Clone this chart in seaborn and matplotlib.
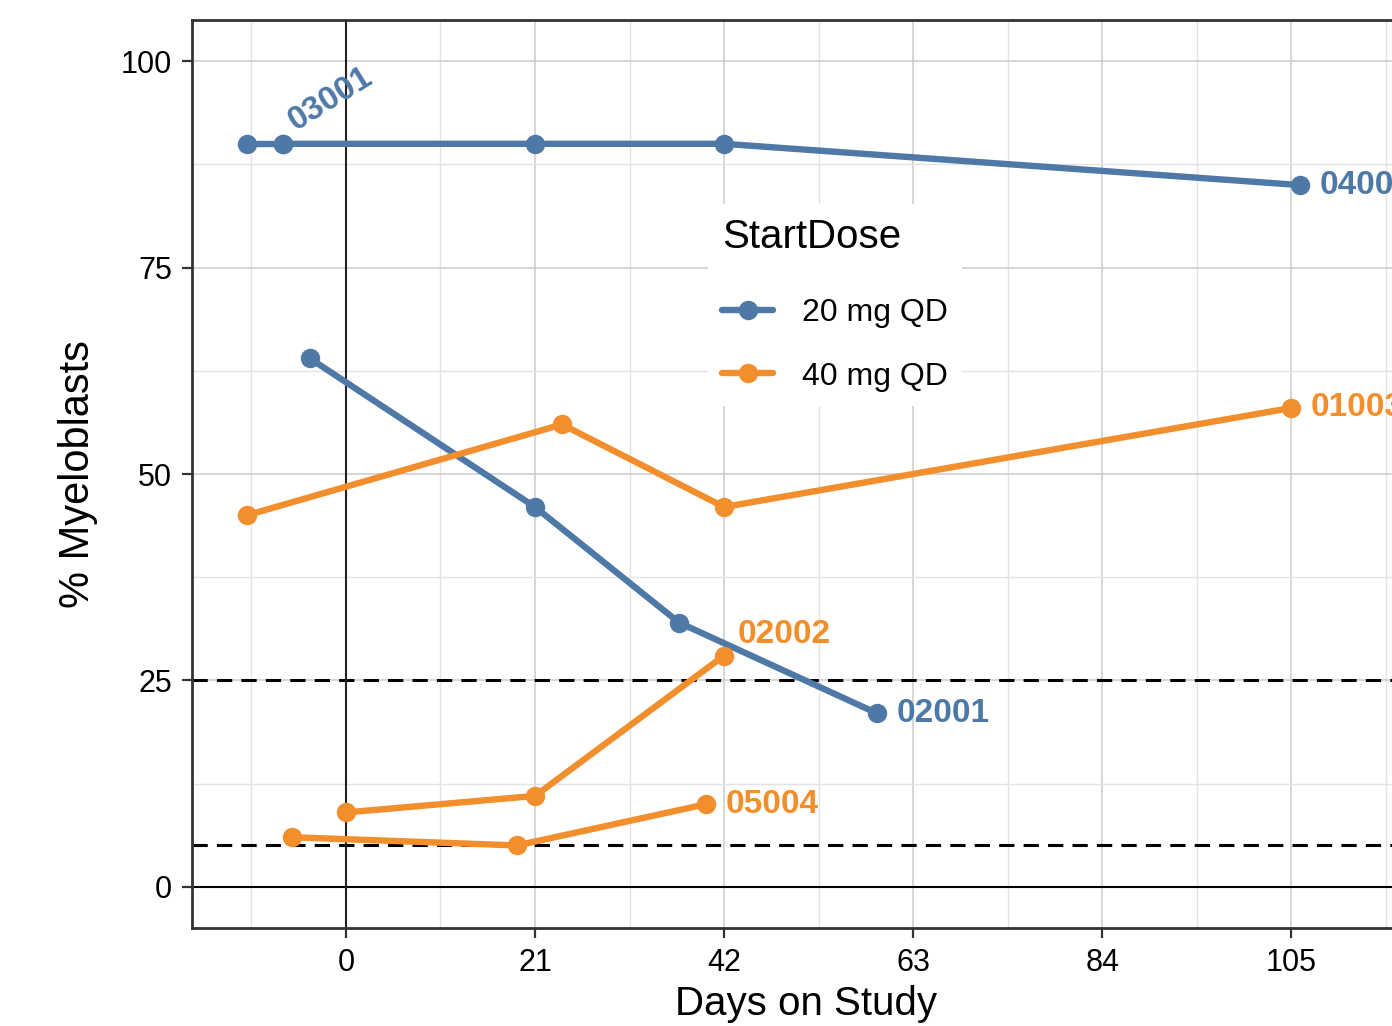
import numpy as np
import pandas as pd
import matplotlib
matplotlib.use('Agg')
import matplotlib.pyplot as plt
from matplotlib.ticker import MultipleLocator
import seaborn as sns

# Patient time courses: day on study and % myeloblasts
patients = ['03001', '04001', '02001', '01003', '02002', '05004']
start_dose = ['20 mg QD', '20 mg QD', '20 mg QD', '40 mg QD', '40 mg QD', '40 mg QD']
days = [
    [-11, -7],
    [-7, 21, 42, 106],
    [-4, 21, 37, 59],
    [-11, 24, 42, 105],
    [0, 21, 42],
    [-6, 19, 40],
]
blasts = [
    [90, 90],
    [90, 90, 90, 85],
    [64, 46, 32, 21],
    [45, 56, 46, 58],
    [9, 11, 28],
    [6, 5, 10],
]
dose_levels = ['20 mg QD', '40 mg QD']
x_ticks = [0, 21, 42, 63, 84, 105]
y_ticks = [0, 25, 50, 75, 100]
threshold_lines = [25, 5]

palette = {'20 mg QD': '#4E79A7', '40 mg QD': '#F28E2B'}
# label placement (offset in points, rotation, vertical anchor)
label_style = {
    '03001': (9, 9, 32, 'baseline'),
    '04001': (14, 0, 0, 'center'),
    '02001': (14, 0, 0, 'center'),
    '01003': (14, 0, 0, 'center'),
    '02002': (10, 15, 0, 'center'),
    '05004': (14, 0, 0, 'center'),
}

# Build the long table seaborn wants
rows = []
for pid, dose, d, b in zip(patients, start_dose, days, blasts):
    for x, y in zip(d, b):
        rows.append((pid, dose, x, y))
df = pd.DataFrame(rows, columns=['Patient', 'StartDose', 'Day', 'Blasts'])

sns.set_theme(style='white')
plt.rcParams['font.family'] = ['Liberation Sans', 'DejaVu Sans']
plt.rcParams['text.color'] = 'black'
plt.rcParams['axes.labelcolor'] = 'black'

fig = plt.figure(figsize=(13.92, 10.26), dpi=100)
ax = fig.add_axes([192 / 1392, 98 / 1026, 1228 / 1392, 908 / 1026])

# reference lines
for y in threshold_lines:
    ax.axhline(y, color='black', lw=2.2, ls=(0, (5, 3)), zorder=1.5)
ax.axhline(0, color='black', lw=1.5, zorder=1.5)
ax.axvline(0, color='#222222', lw=1.5, zorder=1.5)

sns.lineplot(data=df, x='Day', y='Blasts', hue='StartDose', hue_order=dose_levels,
             units='Patient', estimator=None, sort=False, palette=palette,
             marker='o', markersize=14, markeredgewidth=0, linewidth=4.6, ax=ax)

# patient labels at last visit
for pid, dose, d, b in zip(patients, start_dose, days, blasts):
    dx, dy, rot, va = label_style[pid]
    ax.annotate(pid, xy=(d[-1], b[-1]), xytext=(dx, dy), textcoords='offset points',
                color=palette[dose], fontweight='bold', fontsize=24,
                ha='left', va=va, rotation=rot, rotation_mode='anchor')

ax.set_xlim(-17.1, 119.3)
ax.set_ylim(-5, 105)
ax.set_xticks(x_ticks)
ax.set_yticks(y_ticks)
ax.xaxis.set_minor_locator(MultipleLocator(10.5))
ax.yaxis.set_minor_locator(MultipleLocator(12.5))
ax.grid(which='major', color='#cbcbcb', lw=1.1)
ax.grid(which='minor', color='#e3e3e3', lw=1.0)
ax.set_axisbelow(True)
ax.tick_params(which='major', direction='out', length=7.5, width=1.6, color='#333333',
               labelsize=22, labelcolor='black', pad=7, bottom=True, left=True)
ax.tick_params(which='minor', length=0)
for s in ax.spines.values():
    s.set_color('#333333')
    s.set_linewidth(2)

ax.set_xlabel('Days on Study', fontsize=29, labelpad=5)
ax.set_ylabel('% Myeloblasts', fontsize=30, labelpad=16)

handles, labels = ax.get_legend_handles_labels()
leg = ax.legend(handles, labels, title='StartDose', loc='upper left',
                bbox_to_anchor=(708 / 1392, 1 - 204 / 1026), bbox_transform=fig.transFigure,
                borderaxespad=0, fontsize=23, title_fontsize=29, alignment='left',
                handlelength=1.6, handletextpad=0.9, labelspacing=1.05, borderpad=0.45,
                fancybox=False, edgecolor='none', facecolor='white', framealpha=1)
leg._legend_box.sep = 30  # extra room under the title
for h in leg.legend_handles:
    h.set_markersize(14)
    h.set_linewidth(4.6)

fig.savefig('out.png', dpi=100)
